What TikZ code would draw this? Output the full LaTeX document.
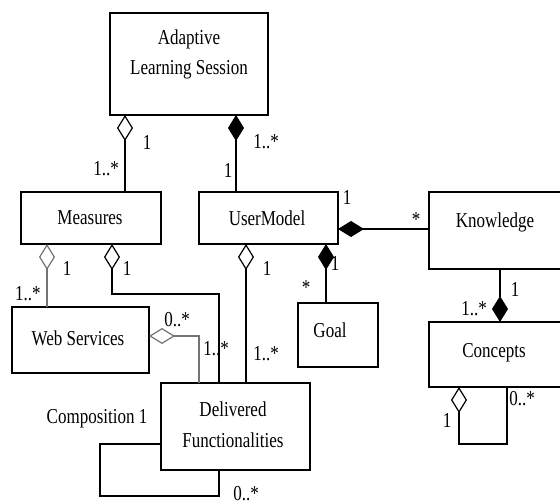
\documentclass[tikz,border=0pt]{standalone}
\usepackage{fontspec}
\setmainfont{Liberation Serif}
\usetikzlibrary{arrows.meta}
% taller lettering for all labels
\newcommand\stretchy[1]{\scalebox{1}[1.25]{#1}}
\begin{document}
\begin{tikzpicture}[x=1pt,y=-1pt,
  every node/.style={font=\fontsize{17}{20}\selectfont},
  box/.style={draw,line width=1.3pt,inner sep=0,outer sep=0,fill=white},
  lbl/.style={inner sep=0,anchor=center},
  link/.style={line width=1.2pt},
  faint/.style={line width=1.2pt,draw=black!55},
  aggr/.style={{Diamond[open,length=26pt,width=16pt,line width=1.2pt]}-},
  comp/.style={{Diamond[length=26pt,width=16pt]}-}]
\useasboundingbox (0,0) rectangle (560,501);

% classes
\node[box,minimum width=158,minimum height=102] (als)  at (189,64) {};
\node[box,minimum width=140,minimum height=52]  (meas) at (91,218) {};
\node[box,minimum width=139,minimum height=52]  (um)   at (268.5,218) {};
\node[box,minimum width=136,minimum height=77]  (know) at (497,230.5) {};
\node[box,minimum width=80,minimum height=64]   (goal) at (338,335) {};
\node[box,minimum width=136,minimum height=65]  (conc) at (497,354.5) {};
\node[box,minimum width=137,minimum height=66]  (ws)   at (80.5,340) {};
\node[box,minimum width=149,minimum height=87]  (del)  at (235.5,426.5) {};

% class names
\node[lbl] (alsA) at (189,39) {\stretchy{Adaptive}};
\node[lbl] (alsB) at (189,70) {\stretchy{Learning Session}};
\node[lbl] (measT) at (90,218) {\stretchy{Measures}};
\node[lbl] (umT) at (267,218) {\stretchy{UserModel}};
\node[lbl] (knowT) at (495,222) {\stretchy{Knowledge}};
\node[lbl] (goalT) at (330,330) {\stretchy{Goal}};
\node[lbl] (concT) at (494,353) {\stretchy{Concepts}};
\node[lbl] (wsT) at (78,338) {\stretchy{Web Services}};
\node[lbl] (delA) at (233,409) {\stretchy{Delivered}};
\node[lbl] (delB) at (233,440) {\stretchy{Functionalities}};

% associations
\draw[link,aggr] ([xshift=-64]als.south) -- ([xshift=-64]als.south |- meas.north);
\draw[link,comp] ([xshift=47]als.south) -- ([xshift=47]als.south |- um.north);
\draw[faint,aggr] ([xshift=-44]meas.south) -- ([xshift=-44]meas.south |- ws.north);
\draw[link,aggr] ([xshift=21]meas.south) -- ++(0,50) -| ([xshift=-16.5]del.north);
\draw[link,aggr] ([xshift=-22.5]um.south) -- ([xshift=-22.5]um.south |- del.north);
\draw[faint,aggr] ([yshift=4]ws.east) -| ([xshift=-36.5]del.north);
\draw[link,comp] ([yshift=-11]um.east) -- ([yshift=-11]um.east -| know.west);
\draw[link,comp] ([xshift=57.5]um.south) -- ([xshift=57.5]um.south |- goal.north);
\draw[link,comp] ([xshift=3]conc.north) -- ([xshift=3]know.south);
\draw[link,aggr] ([xshift=-38]conc.south) -- ++(0,57) -| ([xshift=10]conc.south);
\draw[link] ([yshift=-17.5]del.west) -- ++(-61,0) -- ++(0,52) -| ([xshift=-16.5]del.south);

% multiplicities
\node[lbl] (m1) at (147,142) {\stretchy{1}};
\node[lbl] (m2) at (106,169) {\stretchy{1..*}};
\node[lbl] (m3) at (266,142) {\stretchy{1..*}};
\node[lbl] (m4) at (228,170) {\stretchy{1}};
\node[lbl] (m5) at (67,268) {\stretchy{1}};
\node[lbl] (m6) at (28,294) {\stretchy{1..*}};
\node[lbl] (m7) at (127,268) {\stretchy{1}};
\node[lbl] (m8) at (267,268) {\stretchy{1}};
\node[lbl] (m9) at (177,320) {\stretchy{0..*}};
\node[lbl] (m10) at (216,349) {\stretchy{1..*}};
\node[lbl] (m11) at (266,354) {\stretchy{1..*}};
\node[lbl] (m12) at (347,197) {\stretchy{1}};
\node[lbl] (m13) at (416,220) {\stretchy{*}};
\node[lbl] (m14) at (335,263) {\stretchy{1}};
\node[lbl] (m15) at (306,288) {\stretchy{*}};
\node[lbl] (m16) at (515,289) {\stretchy{1}};
\node[lbl] (m17) at (474,309) {\stretchy{1..*}};
\node[lbl] (m18) at (447,420) {\stretchy{1}};
\node[lbl] (m19) at (522,399) {\stretchy{0..*}};
\node[lbl] (m20) at (97,419) {\stretchy{Composition 1}};
\node[lbl] (m21) at (246,494) {\stretchy{0..*}};
\end{tikzpicture}
\end{document}
